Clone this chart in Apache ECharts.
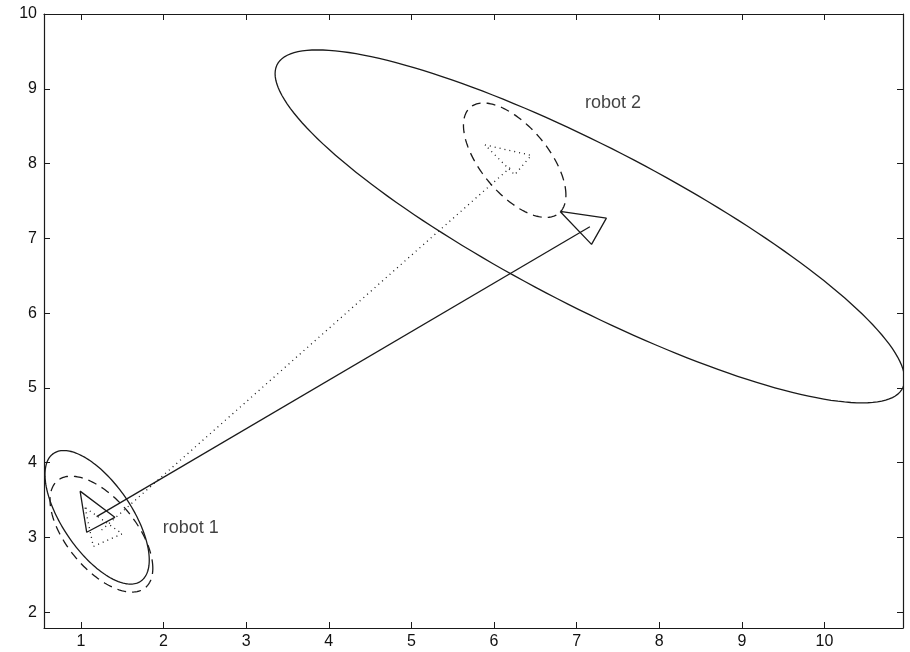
<!DOCTYPE html>
<html>
<head>
<meta charset="utf-8">
<script src="https://cdn.jsdelivr.net/npm/echarts@6/dist/echarts.min.js"></script>
<style>
html,body{margin:0;padding:0;background:#fff;}
#chart{width:910px;height:652px;}
</style>
</head>
<body>
<div id="chart"></div>
<script>
// ---- data ----
const xTicks = [1, 2, 3, 4, 5, 6, 7, 8, 9, 10];
const yTicks = [2, 3, 4, 5, 6, 7, 8, 9, 10];
const xRange = [0.553, 10.95];
const yRange = [1.79, 10];

// uncertainty ellipses: [centerX, centerY, halfWidthX, halfHeightY, correlation]
const solidEllipses = [
  [1.196, 3.27, 0.631, 0.893, -0.64],   // robot 1, solid
  [7.16, 7.16, 3.81, 2.36, -0.865]      // robot 2, solid
];
const dashedEllipses = [
  [1.248, 3.045, 0.622, 0.775, -0.59],  // robot 1, dashed
  [6.25, 8.045, 0.62, 0.765, -0.61]     // robot 2, dashed
];

// pose triangles (closed)
const robot1Solid = [[0.99, 3.62], [1.07, 3.07], [1.41, 3.27], [0.99, 3.62]];
const robot2Solid = [[6.80, 7.36], [7.36, 7.27], [7.18, 6.92], [6.80, 7.36]];
const robot1Dotted = [[1.05, 3.40], [1.15, 2.88], [1.50, 3.05], [1.05, 3.40]];
const robot2Dotted = [[5.89, 8.25], [6.45, 8.11], [6.25, 7.85], [5.89, 8.25]];

// connecting lines
const solidLink = [[1.19, 3.28], [7.16, 7.155]];
const dottedLink = [[1.25, 3.10], [6.20, 7.95]];

// labels
const labels = [
  {name: 'robot 1', value: [1.99, 3.13]},
  {name: 'robot 2', value: [7.10, 8.81]}
];

// ---- chart ----
const ink = '#1a1a1a';
const font = 'Liberation Sans, Arial, Helvetica, sans-serif';
const chart = echarts.init(document.getElementById('chart'));

function ellipseRender(dashType) {
  return function (params, api) {
    const cx = api.value(0), cy = api.value(1), ax = api.value(2), ay = api.value(3), r = api.value(4);
    const s = Math.sqrt(1 - r * r);
    const pts = [];
    const N = 180;
    for (let i = 0; i <= N; i++) {
      const t = (i / N) * Math.PI * 2;
      const x = cx + ax * Math.cos(t);
      const y = cy + ay * (r * Math.cos(t) + s * Math.sin(t));
      pts.push(api.coord([x, y]));
    }
    return {
      type: 'polyline',
      shape: {points: pts},
      style: {stroke: ink, lineWidth: 1.3, fill: null, lineDash: dashType}
    };
  };
}

function lineSeries(data, type) {
  return {
    type: 'line', data: data, showSymbol: false, symbol: 'none', silent: true,
    lineStyle: {color: ink, width: 1.3, type: type === 'dotted' ? [1, 4] : 'solid'},
    animation: false, z: 3
  };
}

const axisCommon = {
  type: 'value',
  axisLine: {show: true, onZero: false, lineStyle: {color: ink, width: 1.2}},
  splitLine: {show: false}
};

chart.setOption({
  animation: false,
  backgroundColor: '#fff',
  grid: {left: 44, right: 7, top: 14, bottom: 24, containLabel: false},
  xAxis: [
    Object.assign({}, axisCommon, {
      min: xRange[0], max: xRange[1], position: 'bottom',
      axisTick: {show: true, inside: true, length: 6, customValues: xTicks, lineStyle: {color: ink}},
      axisLabel: {show: true, customValues: xTicks, margin: 6, color: '#111', fontSize: 16, fontFamily: font}
    }),
    Object.assign({}, axisCommon, {
      min: xRange[0], max: xRange[1], position: 'top',
      axisTick: {show: true, inside: true, length: 6, customValues: xTicks, lineStyle: {color: ink}},
      axisLabel: {show: false}
    })
  ],
  yAxis: [
    Object.assign({}, axisCommon, {
      min: yRange[0], max: yRange[1], position: 'left',
      axisTick: {show: true, inside: true, length: 6, customValues: yTicks, lineStyle: {color: ink}},
      axisLabel: {show: true, customValues: yTicks, margin: 7, color: '#111', fontSize: 16, fontFamily: font}
    }),
    Object.assign({}, axisCommon, {
      min: yRange[0], max: yRange[1], position: 'right',
      axisTick: {show: true, inside: true, length: 6, customValues: yTicks, lineStyle: {color: ink}},
      axisLabel: {show: false}
    })
  ],
  series: [
    {type: 'custom', data: solidEllipses, renderItem: ellipseRender(null), clip: true, silent: true, z: 2},
    {type: 'custom', data: dashedEllipses, renderItem: ellipseRender([9, 6]), clip: true, silent: true, z: 2},
    lineSeries(robot1Solid, 'solid'),
    lineSeries(robot2Solid, 'solid'),
    lineSeries(robot1Dotted, 'dotted'),
    lineSeries(robot2Dotted, 'dotted'),
    lineSeries(solidLink, 'solid'),
    lineSeries(dottedLink, 'dotted'),
    {
      type: 'scatter', data: labels, symbolSize: 0, silent: true,
      label: {show: true, position: 'right', distance: 0, formatter: '{b}', color: '#111', fontSize: 18, fontFamily: font}
    }
  ]
});
</script>
</body>
</html>
